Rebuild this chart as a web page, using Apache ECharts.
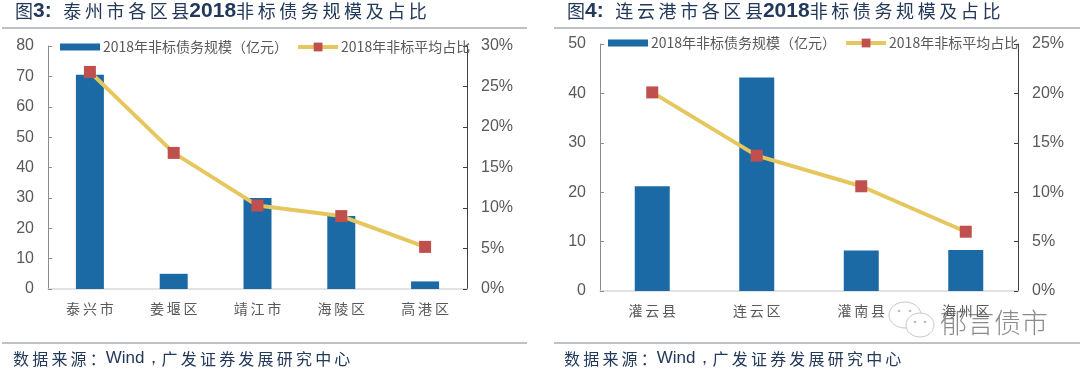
<!DOCTYPE html>
<html>
<head>
<meta charset="utf-8">
<style>
  html, body { margin: 0; padding: 0; background: #fff; }
  #chart { width: 1080px; height: 371px; }
</style>
<script src="https://cdn.jsdelivr.net/npm/echarts@6/dist/echarts.min.js"></script>
</head>
<body>
<div id="chart"></div>
<script>
const barName = "2018年非标债务规模（亿元）";
const lineName = "2018年非标平均占比";

// 图3 泰州市
const leftCategories = ["泰兴市", "姜堰区", "靖江市", "海陵区", "高港区"];
const leftBars = [70.5, 5, 30, 24, 2.5];
const leftRatio = [26.8, 16.8, 10.3, 9, 5.2];

// 图4 连云港市
const rightCategories = ["灌云县", "连云区", "灌南县", "海州区"];
const rightBars = [21.2, 43.2, 8.2, 8.3];
const rightRatio = [20.1, 13.7, 10.6, 6];

const BLUE = "#1B6AA5";
const YELLOW = "#E6C75F";
const RED = "#C0504D";
const GREY = "#595959";
const NAVY = "#22395A";
const RULE = "#7F858C";
const SANS = "'Liberation Sans', Arial, sans-serif";
const CJK = "'Noto Sans CJK SC', sans-serif";

// 原图字距较宽，canvas 没有 letter-spacing，用窄空格撑开
const spaced = (s) => s.split("").join("\u2009");

const titleRich = {
  c: { fontFamily: CJK, fontSize: 18, fontWeight: "normal", color: NAVY },
  b: { fontFamily: SANS, fontSize: 21, fontWeight: "bold", color: NAVY },
};

function makeTitle(left, no, city) {
  return {
    left: left,
    top: 1,
    padding: 0,
    text: `{c|图}{b|${no}:  }{c|${spaced(city)}}{b|2018}{c|${spaced("非标债务规模及占比")}}`,
    textStyle: { rich: titleRich },
  };
}

function makeSource(left) {
  return {
    left: left,
    top: 350,
    padding: 0,
    text: `{c|${spaced("数据来源：")}}{w|Wind，}{c|${spaced("广发证券发展研究中心")}}`,
    textStyle: {
      rich: {
        c: { fontFamily: CJK, fontSize: 16, fontWeight: "normal", color: NAVY },
        w: { fontFamily: SANS, fontSize: 17, fontWeight: "normal", color: NAVY },
      },
    },
  };
}

function makeLegend(left, top) {
  return {
    left: left,
    top: top,
    itemWidth: 40,
    itemHeight: 11,
    itemGap: 8,
    padding: 0,
    symbolSize: 11,
    textStyle: { fontFamily: CJK, fontSize: 14, color: GREY, padding: [0, 0, 0, -2] },
    data: [
      // 图例色块比标记矮，上下各留一点空
      { name: barName, icon: "path://M0 0L1 0ZM0 2H40V9H0ZM0 11L1 11Z" },
      { name: lineName, lineStyle: { width: 4 } },
    ],
  };
}

function xAxis(gridIndex, data) {
  return {
    type: "category",
    gridIndex: gridIndex,
    data: data,
    axisTick: { show: false },
    axisLine: { lineStyle: { color: "#D9D9D9", width: 1.5 } },
    axisLabel: { fontFamily: CJK, fontSize: 14, color: GREY, margin: 13, formatter: spaced },
  };
}

function yAxis(gridIndex, position, max, interval, lineColor, formatter) {
  return {
    type: "value",
    gridIndex: gridIndex,
    position: position,
    min: 0,
    max: max,
    interval: interval,
    splitLine: { show: false },
    axisLine: { show: true, lineStyle: { color: lineColor, width: 1 } },
    axisTick: { show: true, inside: true, length: 4, lineStyle: { color: lineColor } },
    axisLabel: { fontFamily: SANS, fontSize: 16, color: GREY, margin: 14, formatter: formatter },
  };
}

function barSeries(axisIndex, data, width) {
  return {
    name: barName,
    type: "bar",
    xAxisIndex: axisIndex,
    yAxisIndex: axisIndex * 2,
    data: data,
    barWidth: width,
    itemStyle: { color: BLUE },
  };
}

function lineSeries(axisIndex, data) {
  return {
    name: lineName,
    type: "line",
    xAxisIndex: axisIndex,
    yAxisIndex: axisIndex * 2 + 1,
    data: data,
    symbol: "rect",
    symbolSize: 12,
    lineStyle: { color: YELLOW, width: 4 },
    itemStyle: { color: RED },
    z: 5,
  };
}

function rule(x1, x2, y) {
  return {
    type: "line",
    shape: { x1: x1, y1: y, x2: x2, y2: y },
    style: { stroke: RULE, lineWidth: 1.2 },
  };
}

const option = {
  animation: false,
  backgroundColor: "#fff",
  title: [
    makeTitle(15, "3", "泰州市各区县"),
    makeTitle(567, "4", "连云港市各区县"),
    makeSource(13),
    makeSource(564),
  ],
  legend: [makeLegend(60, 40), makeLegend(608, 36)],
  grid: [
    { left: 48, right: 613, top: 46, bottom: 82 },
    { left: 600, right: 62, top: 44, bottom: 80 },
  ],
  xAxis: [xAxis(0, leftCategories), xAxis(1, rightCategories)],
  yAxis: [
    yAxis(0, "left", 80, 10, "#8C8C8C"),
    yAxis(0, "right", 30, 5, "#404040", "{value}%"),
    yAxis(1, "left", 50, 10, "#8C8C8C"),
    yAxis(1, "right", 25, 5, "#404040", "{value}%"),
  ],
  series: [
    barSeries(0, leftBars, 28),
    lineSeries(0, leftRatio),
    barSeries(1, rightBars, 35),
    lineSeries(1, rightRatio),
  ],
  graphic: [
    rule(2, 527, 28),
    rule(2, 527, 343),
    rule(554, 1080, 28),
    rule(554, 1080, 343),
    // 水印
    {
      type: "group",
      z: 100,
      children: [
        { type: "ellipse", shape: { cx: 905, cy: 315, rx: 16, ry: 13 }, style: { fill: "rgba(255,255,255,0.85)", stroke: "#C8C8C8", lineWidth: 1 } },
        { type: "ellipse", shape: { cx: 920, cy: 325, rx: 14, ry: 12 }, style: { fill: "rgba(255,255,255,0.9)", stroke: "#C8C8C8", lineWidth: 1 } },
        { type: "circle", shape: { cx: 899, cy: 311, r: 1.3 }, style: { fill: "#BDBDBD" } },
        { type: "circle", shape: { cx: 910, cy: 311, r: 1.3 }, style: { fill: "#BDBDBD" } },
        { type: "circle", shape: { cx: 915, cy: 322, r: 1.3 }, style: { fill: "#BDBDBD" } },
        { type: "circle", shape: { cx: 925, cy: 322, r: 1.3 }, style: { fill: "#BDBDBD" } },
        {
          type: "text",
          style: {
            x: 940,
            y: 309,
            text: "郁言债市",
            fontFamily: CJK,
            fontWeight: 300,
            fontSize: 27,
            fill: "rgba(110,110,110,0.8)",
          },
        },
      ],
    },
  ],
};

const myChart = echarts.init(document.getElementById("chart"));
myChart.setOption(option);
</script>
</body>
</html>
